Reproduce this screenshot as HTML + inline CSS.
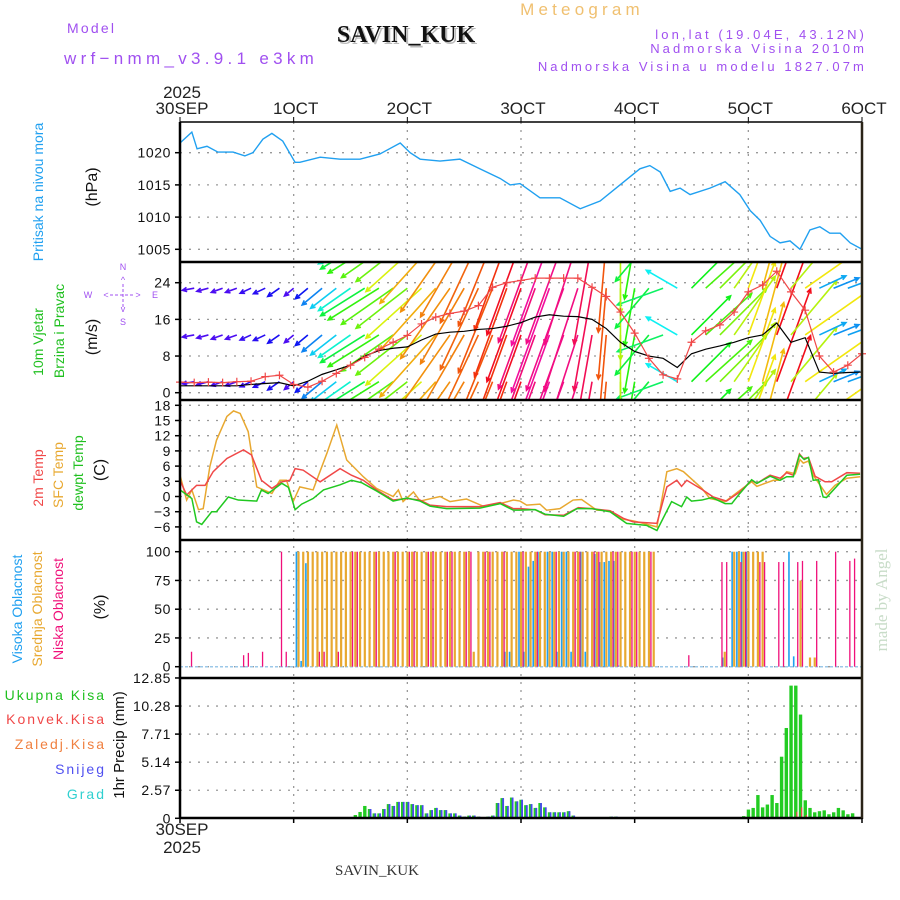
<!DOCTYPE html>
<html><head><meta charset="utf-8"><style>
html,body{margin:0;padding:0;background:#fff;}
svg{display:block;font-family:"Liberation Sans",sans-serif;}
</style></head><body>
<svg id="chart" width="900" height="900" viewBox="0 0 900 900" xmlns="http://www.w3.org/2000/svg">
<rect x="0" y="0" width="900" height="900" fill="#fff"/>
<text x="582" y="15" font-size="17" fill="#f0c070" text-anchor="middle" letter-spacing="4.2">Meteogram</text>
<text x="67" y="33" font-size="14" fill="#a050f0" letter-spacing="2.2">Model</text>
<text x="408" y="44" font-size="24" font-weight="bold" fill="#bbb" text-anchor="middle" font-family="Liberation Serif, serif">SAVIN_KUK</text>
<text x="406" y="42" font-size="24" font-weight="bold" fill="#111" text-anchor="middle" font-family="Liberation Serif, serif">SAVIN_KUK</text>
<text x="64" y="64" font-size="17" fill="#a050f0" letter-spacing="4.3">wrf−nmm_v3.9.1 e3km</text>
<text x="867" y="39" font-size="13" fill="#a050f0" text-anchor="end" letter-spacing="3.1">lon,lat (19.04E, 43.12N)</text>
<text x="867" y="53" font-size="13" fill="#a050f0" text-anchor="end" letter-spacing="3.1">Nadmorska Visina 2010m</text>
<text x="867" y="71" font-size="13" fill="#a050f0" text-anchor="end" letter-spacing="3.1">Nadmorska Visina u modelu 1827.07m</text>
<text x="182" y="98" font-size="17" fill="#222" text-anchor="middle">2025</text>
<text x="182" y="835" font-size="17" fill="#222" text-anchor="middle">30SEP</text>
<text x="182" y="853" font-size="17" fill="#222" text-anchor="middle">2025</text>
<text x="377" y="875" font-size="15" fill="#333" text-anchor="middle" font-family="Liberation Serif, serif">SAVIN_KUK</text>
<text x="0" y="0" transform="translate(887,600) rotate(-90)" font-size="17" fill="#c8dcc8" text-anchor="middle" font-family="Liberation Serif, serif">made by Angel</text>
<text transform="translate(43,192) rotate(-90)" font-size="14" fill="#20a0f0" text-anchor="middle">Pritisak na nivou mora</text>
<text transform="translate(97,187) rotate(-90)" font-size="16" fill="#111" text-anchor="middle">(hPa)</text>
<text transform="translate(43,342) rotate(-90)" font-size="14" fill="#20c020" text-anchor="middle">10m Vjetar</text>
<text transform="translate(64,331) rotate(-90)" font-size="14" fill="#20c020" text-anchor="middle">Brzina i Pravac</text>
<text transform="translate(97,337) rotate(-90)" font-size="16" fill="#111" text-anchor="middle">(m/s)</text>
<g fill="#a050f0" font-size="9" text-anchor="middle">
<text x="123" y="270">N</text><text x="123" y="325">S</text><text x="88" y="298">W</text><text x="155" y="298">E</text>
<text x="123" y="283">^</text><text x="123" y="312">v</text><text x="106" y="298">&lt;</text><text x="138" y="298">&gt;</text>
<line x1="110" y1="295" x2="135" y2="295" stroke="#a050f0" stroke-dasharray="3,2"/><line x1="123" y1="284" x2="123" y2="308" stroke="#a050f0" stroke-dasharray="3,2"/>
</g>
<text transform="translate(43,478) rotate(-90)" font-size="14" fill="#f04848" text-anchor="middle">2m Temp</text>
<text transform="translate(63,475) rotate(-90)" font-size="14" fill="#e8a830" text-anchor="middle">SFC Temp</text>
<text transform="translate(83,473) rotate(-90)" font-size="14" fill="#20c020" text-anchor="middle">dewpt Temp</text>
<text transform="translate(105,470) rotate(-90)" font-size="16" fill="#111" text-anchor="middle">(C)</text>
<text transform="translate(22,609) rotate(-90)" font-size="14" fill="#20a0f0" text-anchor="middle">Visoka Oblacnost</text>
<text transform="translate(42,609) rotate(-90)" font-size="14" fill="#e8a830" text-anchor="middle">Srednja Oblacnost</text>
<text transform="translate(63,609) rotate(-90)" font-size="14" fill="#f0107a" text-anchor="middle">Niska Oblacnost</text>
<text transform="translate(105,607) rotate(-90)" font-size="16" fill="#111" text-anchor="middle">(%)</text>
<g font-size="14" text-anchor="end" letter-spacing="2">
<text x="106" y="700" fill="#20c020">Ukupna  Kisa</text>
<text x="106" y="724" fill="#f04848">Konvek.Kisa</text>
<text x="106" y="749" fill="#f08040">Zaledj.Kisa</text>
<text x="106" y="774" fill="#5050f0">Snijeg</text>
<text x="106" y="799" fill="#30d0d0">Grad</text>
</g>
<text transform="translate(124,745) rotate(-90)" font-size="15" fill="#111" text-anchor="middle">1hr Precip (mm)</text>
<defs><clipPath id="windclip"><rect x="181" y="263" width="681" height="136"/></clipPath></defs>
</svg>
<script>
// ---------- data ----------
const dayLabels = ['30SEP','1OCT','2OCT','3OCT','4OCT','5OCT','6OCT'];
const presTicks = [1005,1010,1015,1020];
const windTicks = [0,8,16,24];
const tempTicks = [-6,-3,0,3,6,9,12,15,18];
const cloudTicks = [0,25,50,75,100];
const precipTicks = [0,2.57,5.14,7.71,10.28,12.85];

const presHours = [0,2.5,3.6,5.7,8,11.2,13.7,15.4,17.5,19.4,21.7,24.3,25.3,29.6,33.8,38,42.2,46.5,48.6,50.7,54.9,59.1,63.3,67.6,69.7,71.8,76,80.2,84.5,88.7,92.9,97.1,99.2,101.4,103.5,105.6,107.7,111.9,115.1,118.2,120.4,122.5,124.6,126.7,128.8,130.9,133,135.1,137.2,139.4,141.5,144];
const presVals = [1021.5,1023.2,1020.6,1021,1020.1,1020.1,1019.5,1020,1022.1,1023,1021.8,1018.5,1018.5,1019.3,1019,1019,1019.8,1021.5,1020,1019,1018.7,1019,1017.5,1016,1015,1015.2,1013,1013,1011.3,1012.5,1015,1017.5,1018,1017,1014,1014.5,1013.5,1014.5,1015.5,1013.5,1011,1009.5,1007,1006,1006.3,1005,1008,1008.5,1007.5,1007.5,1006,1005];

const windHours = [0,3,6,9,12,15,18,21,24,27,30,33,36,39,42,45,48,51,54,57,60,63,66,69,72,75,78,81,84,87,90,93,96,99,102,105,108,111,114,117,120,123,126,129,132,135,138,141,144];
const gustVals = [2.3,2.2,2.3,2.2,2.4,2.5,3.5,3.8,1.8,1.2,2.5,4.2,6,7.7,9.5,11,12.5,15,16.5,17.3,17.8,19,23,24,24.5,25,25,25,25,23,21,17.6,13,7.5,3.9,3,11,13.5,14.8,17.6,22,23.5,26.5,22,18,8,4.5,6,8.5];
const speedVals = [1.5,1.5,1.5,1.5,1.5,1.8,2,2.2,1.5,2.5,4,5,6,8,9.2,9.7,10,11.5,12.8,13.2,13.4,13.8,14,14.5,15.3,16.5,17,16.7,16.6,16,14,11,9,8,7.5,5.5,8.5,9.5,10.2,11,12,12.6,15.2,11,12,4.5,4.2,4.4,4.5];
const dirVals = [80,80,75,70,70,65,65,55,50,50,50,52,55,58,58,55,52,48,42,35,30,25,22,20,20,20,20,20,18,10,5,0,10,40,70,120,225,228,225,215,200,195,200,220,235,245,248,250,250];

const t2Hours = [0,1.4,3.5,5.3,7,9.9,13.4,15.1,17.2,19.4,21.5,23.2,24.3,26,29.6,33.8,36.2,38.7,41.5,45,47.9,50.7,52.8,56.3,59.8,63.3,67.6,70.4,71.8,75,77.1,81,84.1,86.9,90.8,93.6,95.7,100.7,102.8,104.9,105.9,107,110.2,112.6,115.4,118.2,120.7,121.8,124.6,126.7,128.1,129.5,130.8,131.6,132.7,134.1,136.2,137.6,140.8,143.6];
const t2Vals = [3.2,0.3,2.2,2.2,4.9,7.5,9.2,8.2,3.2,1.6,2.9,3.2,5.5,5.2,2.9,5.5,4.2,3.2,1.3,-0.7,-0.4,-0.7,-1.7,-2,-2,-2,-1.2,-2.4,-2.4,-2.6,-3.6,-3.7,-2.2,-2.4,-2.8,-4.3,-5,-5.3,1.9,3.2,2,3.2,1.4,-0.1,-0.9,0.9,3.2,2.6,4.2,3.6,4.7,4.2,8.4,7.5,7.7,4,2.9,2.9,4.7,4.6];
const sfcHours = [0,1.4,2.5,3.9,4.9,6.3,7.7,9.9,11.3,12.7,14.4,16.2,19.4,21.1,22.5,23.9,25.3,28.1,31,33.1,35.2,38.7,41.5,45,46.1,47.1,49.3,50.7,54.9,57,60.5,64,67.6,70.4,71.8,73.2,76,77.4,80.2,83,84.8,88,90.8,93.6,95.7,100.7,102.8,104.9,106.3,110.2,111.9,115.1,118.2,120.7,121.8,125.3,126.7,128.1,129.9,130.9,131.6,132.7,133.7,136.5,138.3,140.8,143.6];
const sfcVals = [4.2,-0.7,1.3,-2.6,-2.4,5.9,11.1,15.8,16.9,16.4,12.8,1.9,0.6,3.2,3.2,-1,1.9,1.3,8.5,14.1,7.2,3.9,1.6,0,1.3,-1,0.9,-0.9,0,-1,-0.5,-1.9,-1.4,-0.7,-0.9,-1.7,-1.5,-2.7,-2.4,-0.7,-0.6,-2.7,-2.8,-4.5,-4.8,-6,4.9,5.5,4.9,1.6,-0.4,-1,1.2,2.9,2,3.2,3.2,4.9,4.5,7.3,6.6,7,4.2,0.4,2.2,3.6,3.9];
const dewHours = [0,2.5,3.5,4.6,6.7,7.7,10.2,12.3,16.2,17.2,18.6,21.5,22.9,24.3,25.7,28.1,30.3,33.8,36.2,38.4,41.5,45,47.9,50.7,52.8,56.3,63.3,67.6,70.4,71.8,75,77.1,81,83.8,86.9,90.8,94.3,98.5,100.7,103.8,105.9,107,108,110.2,112.3,115.1,116.5,118.2,120.7,121.8,124.6,126.7,128.1,129.5,130.8,131.8,132.7,133.7,134.8,135.8,136.5,140.8,143.6];
const dewVals = [1.3,-0.4,-5,-5.5,-3,-3,-0.1,-0.7,-0.9,1.3,0.6,2.6,1.8,-2.6,-1.5,-0.4,1.3,2.3,3.2,2.7,1.1,-0.9,-0.3,-0.9,-1.9,-2.4,-2.3,-1.4,-2.7,-2.7,-2.6,-3.5,-3.9,-2.4,-2.4,-3,-5.3,-5.7,-6.7,-1,-2,-0.1,-0.9,-0.7,-0.2,-1.4,-1.4,0.6,3.3,2.6,4,3.2,3.9,3.9,8.2,7.3,7.7,3.2,3.3,-0.1,-0.2,4.2,4.4];

const highHours = [25,26,27,69,70,72,73,74,75,76,78,79,80,81,82,83,85,86,88,89,90,91,92,93,115,117,118,119,120,129,130];
const highVals = [100,5,90,13,13,100,13,87,92,100,100,100,13,100,100,13,100,13,98,91,91,92,92,1,8,100,100,100,100,100,9];
const midHours = [25,26,27,28,29,30,31,32,33,34,35,36,37,38,39,40,41,42,43,44,45,46,47,48,49,50,51,52,53,54,55,56,57,58,59,60,61,62,63,64,65,66,67,68,69,70,71,72,73,74,75,76,77,78,79,80,81,82,83,84,85,86,87,88,89,90,91,92,93,94,95,96,97,98,99,100,115,117,118,119,120,121,122,123,131,133,134];
const midVals = [100,100,100,100,100,100,100,100,100,100,100,100,100,100,100,100,100,100,100,100,100,100,100,100,100,100,100,100,100,100,100,100,100,100,100,100,100,13,100,100,100,100,100,100,100,100,100,100,100,100,100,100,100,100,100,100,100,100,100,100,100,100,100,100,100,100,100,100,100,100,100,100,100,100,100,100,13,100,100,100,100,100,100,100,75,8,8];
const lowHours = [2,13,14,17,21,22,29,30,33,36,37,41,45,48,49,52,53,56,57,60,61,64,65,68,72,75,79,83,84,87,88,91,92,95,96,99,107,114,115,118,119,122,123,126,127,130,131,134,138,141,142];
const lowVals = [13,10,12,13,100,13,13,13,13,100,100,100,100,100,100,100,100,100,100,100,100,100,100,100,100,100,100,100,100,100,100,100,100,100,100,100,10,91,91,91,100,91,91,91,91,91,92,92,100,92,94];

const precipHours = [37,38,39,40,41,42,43,44,45,46,47,48,49,50,51,52,53,54,55,56,57,58,59,60,61,62,63,65,66,67,68,69,70,71,72,73,74,75,76,77,78,79,80,81,82,83,91,92,119,120,121,122,123,124,125,126,127,128,129,130,131,132,133,134,135,136,137,138,139,140,141,142];
const precipTotal = [0.3,0.58,1.13,0.85,0.45,0.45,0.85,1.3,1.13,1.5,1.5,1.5,1.3,1.2,1.2,0.45,0.75,0.95,0.75,0.75,0.45,0.45,0.25,0.15,0.25,0.25,0.15,0.15,0.25,1.4,1.85,1.13,1.9,1.55,1.7,1.2,1.3,0.95,1.4,1.0,0.55,0.55,0.55,0.55,0.65,0.25,0.15,0.15,0.2,0.8,0.95,2.13,1.0,1.26,2.13,1.4,5.64,8.27,12.15,12.15,9.5,1.65,0.95,0.55,0.65,0.73,0.37,0.55,0.95,0.73,0.37,0.46];
const snowVals = [0,0,0,0.85,0.45,0.45,0.85,1.3,1.13,1.5,1.5,1.5,1.3,1.2,1.2,0.45,0.75,0.95,0.75,0.75,0.45,0.45,0.25,0.15,0.25,0.25,0.15,0.15,0.25,1.4,1.85,1.13,1.9,1.55,1.7,1.2,1.3,0.95,1.4,1.0,0.55,0.55,0.55,0.55,0.65,0.25,0.15,0.15,0,0,0,0,0,0,0,0,0,0,0,0,0,0,0,0,0,0,0,0,0,0,0,0];
const convHours = [130,131,132];
const convVals = [0.6,1.0,0.3];

// ---------- scales ----------
const X0 = 180, X1 = 862;
const X = h => X0 + h * (X1 - X0) / 144;
const YP = p => 152.7 + (1020 - p) * 6.44;
const YW = v => 392.7 - v * 4.583;
const YT = t => 405.3 + (18 - t) * 5.067;
const YC = c => 666.7 - c * 1.15;
const YR = r => 818.3 - r * 10.92;

const NS = 'http://www.w3.org/2000/svg';
const svg = document.getElementById('chart');
function mk(tag, attrs, parent) {
  const e = document.createElementNS(NS, tag);
  for (const k in attrs) e.setAttribute(k, attrs[k]);
  (parent || svg).appendChild(e);
  return e;
}

// ---------- grids & ticks ----------
const panels = [
  {name:'pressure', ticks:presTicks, Y:YP, fmt:v=>String(v)},
  {name:'wind', ticks:windTicks, Y:YW, fmt:v=>String(v)},
  {name:'temperature', ticks:tempTicks, Y:YT, fmt:v=>(v<0?'−'+(-v):String(v))},
  {name:'cloud', ticks:cloudTicks, Y:YC, fmt:v=>String(v)},
  {name:'precip', ticks:precipTicks, Y:YR, fmt:v=>(v===0?'0':v.toFixed(2))}
];
const gridG = mk('g', {});


for (let d = 1; d < 6; d++) {
  const gl = mk('line', {x1:X(d*24), x2:X(d*24), y1:122, y2:818, stroke:'#999', 'stroke-width':1.3, 'stroke-dasharray':'2,6'}, gridG);
  
  
}
panels.forEach(p => {
  p.ticks.forEach(t => {
    const y = p.Y(t);
    const gl = mk('line', {x1:X0, x2:X1, y1:y, y2:y, stroke:'#999', 'stroke-width':1.3, 'stroke-dasharray':'2,7'}, gridG);
    
    
    const tk = mk('line', {x1:X0-5, x2:X0, y1:y, y2:y, stroke:'#000', 'stroke-width':1.5});
    
    
    const lb = mk('text', {x:171, y:y+5, 'font-size':14, 'text-anchor':'end', fill:'#111', 'letter-spacing':'0.6'});
    lb.textContent = p.fmt(t);
    
    
  });
});
dayLabels.forEach((d, i) => {
  const lb = mk('text', {x:X(i*24)+2, y:114, 'font-size':17, 'text-anchor':'middle', fill:'#222'});
  lb.textContent = d;
  
  
  const tk = mk('line', {x1:X(i*24), x2:X(i*24), y1:117, y2:122, stroke:'#000'});
  
  
});

// ---------- pressure ----------
const pLine = mk('polyline', {points:presHours.map((h,i)=>X(h)+','+YP(presVals[i])).join(' '), fill:'none', stroke:'#20a0f0', 'stroke-width':1.4});



// ---------- wind ----------
const windG = mk('g', {'clip-path':'url(#windclip)'});


const rowBases = [-7.8, 2.4, 12.6, 22.8, 33];
rowBases.forEach(b => {
  windHours.forEach((h, i) => {
    const spd = speedVals[i];
    const L = Math.max(12, spd * 6.5);
    const a = dirVals[i] * Math.PI / 180;
    const x0 = X(h), y0 = YW(b);
    const x1 = x0 - Math.sin(a) * L, y1 = y0 + Math.cos(a) * L;
    const hue = (285 - spd * 19 + 360) % 360;
    const col = 'hsl(' + hue + ',90%,50%)';
    const ang = Math.atan2(y1 - y0, x1 - x0);
    const d = 'M' + x0 + ',' + y0 + 'L' + x1 + ',' + y1 +
      'M' + (x1 + 5*Math.cos(ang+Math.PI-0.45)) + ',' + (y1 + 5*Math.sin(ang+Math.PI-0.45)) + 'L' + x1 + ',' + y1 +
      'L' + (x1 + 5*Math.cos(ang+Math.PI+0.45)) + ',' + (y1 + 5*Math.sin(ang+Math.PI+0.45));
    const ar = mk('path', {d:d, stroke:col, 'stroke-width':1.6, fill:'none'}, windG);
    
    
  });
});
const sLine = mk('polyline', {points:windHours.map((h,i)=>X(h)+','+YW(speedVals[i])).join(' '), fill:'none', stroke:'#000', 'stroke-width':1.2, 'clip-path':'url(#windclip)'});


const gLine = mk('polyline', {points:windHours.map((h,i)=>X(h)+','+YW(gustVals[i])).join(' '), fill:'none', stroke:'#f04848', 'stroke-width':1.2, 'clip-path':'url(#windclip)'});


windHours.forEach((h, i) => {
  const x = X(h), y = YW(gustVals[i]);
  const m = mk('path', {d:'M'+(x-4)+','+y+'H'+(x+4)+'M'+x+','+(y-4)+'V'+(y+4), stroke:'#f04848', 'stroke-width':1.2});
  
  
});

// ---------- temperature ----------
[[sfcHours, sfcVals, '#e8a830', 'sfc-temp-line'], [t2Hours, t2Vals, '#f04848', 'temp-2m-line'], [dewHours, dewVals, '#20c820', 'dewpoint-line']].forEach(s => {
  const l = mk('polyline', {points:s[0].map((h,i)=>X(h)+','+YT(s[1][i])).join(' '), fill:'none', stroke:s[2], 'stroke-width':1.5});
  
  
});

// ---------- cloud ----------
const base = mk('line', {x1:X0, x2:X1, y1:YC(0), y2:YC(0), stroke:'#9cc8e8', 'stroke-width':1.5, 'stroke-dasharray':'3,2'});


midHours.forEach((h, i) => {
  const b = mk('rect', {x:X(h)-1, y:YC(midVals[i]), width:2.2, height:YC(0)-YC(midVals[i]), fill:'#e8a830'});
  
  
});
highHours.forEach((h, i) => {
  const b = mk('rect', {x:X(h)-2.8, y:YC(highVals[i]), width:1.6, height:YC(0)-YC(highVals[i]), fill:'#20a0f0'});
  
  
});
lowHours.forEach((h, i) => {
  const b = mk('rect', {x:X(h)+1.4, y:YC(lowVals[i]), width:1.3, height:YC(0)-YC(lowVals[i]), fill:'#f0107a'});
  
  
});

// ---------- precip ----------
precipHours.forEach((h, i) => {
  const b = mk('rect', {x:X(h)-1.6, y:YR(precipTotal[i]), width:3.4, height:YR(0)-YR(precipTotal[i]), fill:'#22cc22'});
  
  
  if (snowVals[i] > 0) {
    const s = mk('rect', {x:X(h)+0.2, y:YR(snowVals[i]), width:1.8, height:YR(0)-YR(snowVals[i]), fill:'#4848f0'});
    
    
  }
});
convHours.forEach((h, i) => {
  const b = mk('rect', {x:X(h)+0.6, y:YR(convVals[i]), width:1.2, height:YR(0)-YR(convVals[i]), fill:'#f04848'});
  
  
});

// ---------- frames ----------
const frames = mk('g', {});


[[122,1.5],[262,2.5],[400,2.5],[540,2.5],[678,2.5],[818,2.5]].forEach(f => {
  const l = mk('line', {x1:X0, x2:X1, y1:f[0], y2:f[0], stroke:'#000', 'stroke-width':f[1]}, frames);
  
  
});
const lb1 = mk('line', {x1:X0, x2:X0, y1:122, y2:819, stroke:'#000', 'stroke-width':2.5}, frames);


const rb1 = mk('line', {x1:X1, x2:X1, y1:122, y2:819, stroke:'#2a2418', 'stroke-width':2.5}, frames);


for (let d = 0; d <= 6; d++) {
  const t = mk('line', {x1:X(d*24), x2:X(d*24), y1:818, y2:823, stroke:'#000', 'stroke-width':1.5}, frames);
  
  
}
</script>
</body></html>
